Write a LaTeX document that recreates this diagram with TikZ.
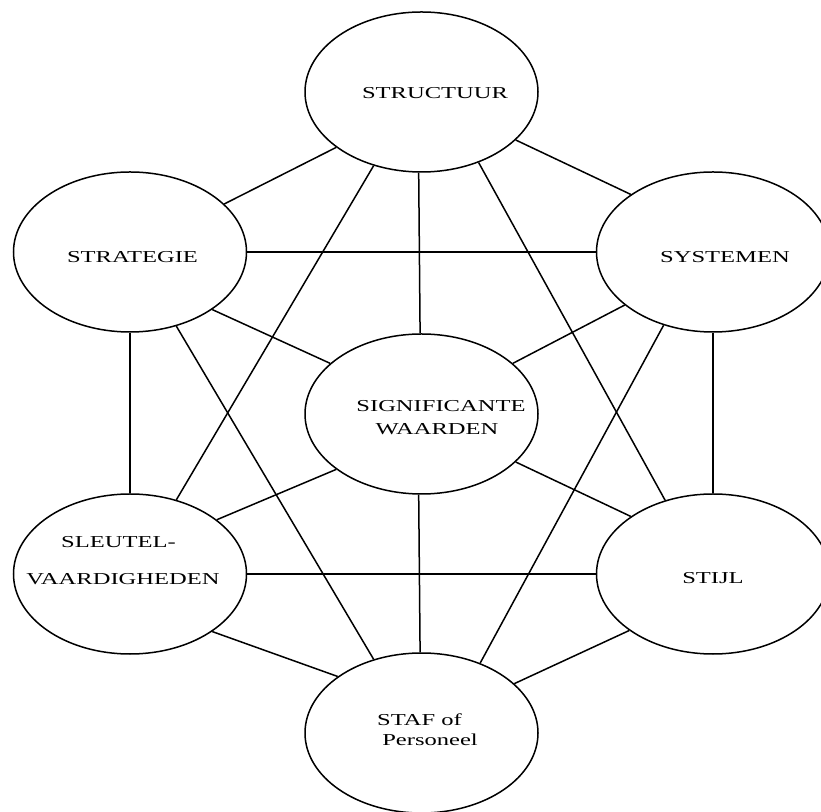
\documentclass[tikz,border=0pt]{standalone}
\usepackage{fontspec}
\setmainfont{Liberation Serif}
\usepackage{graphicx}
\usetikzlibrary{shapes.geometric}
\newcommand\stretchtxt[1]{\scalebox{1.47}[1]{\fontsize{16.7}{20}\selectfont #1}}
\tikzset{
  oval/.style={ellipse, draw, line width=1.5pt, minimum width=233pt, minimum height=160pt, inner sep=0pt},
  lbl/.style={anchor=base, inner sep=0pt},
  link/.style={line width=1.5pt}
}
\begin{document}
\begin{tikzpicture}[x=1pt,y=1pt]
\useasboundingbox (0,0) rectangle (821,811);
% ellipses
\node[oval] (A) at (421.5,719) {};
\node[oval] (B) at (130,559) {};
\node[oval] (C) at (713,559) {};
\node[oval] (D) at (421.5,397) {};
\node[oval] (E) at (130,237) {};
\node[oval] (F) at (713,237) {};
\node[oval] (G) at (421.5,78) {};
% labels
\node[lbl] (tA) at (435,712.3) {\stretchtxt{STRUCTUUR}};
\node[lbl] (tB) at (132.5,548.7) {\stretchtxt{STRATEGIE}};
\node[lbl] (tC) at (725,548.7) {\stretchtxt{SYSTEMEN}};
\node[lbl] (tD1) at (441,399.3) {\stretchtxt{SIGNIFICANTE}};
\node[lbl] (tD2) at (437,376) {\stretchtxt{WAARDEN}};
\node[lbl] (tE1) at (118.5,263.7) {\stretchtxt{SLEUTEL-}};
\node[lbl] (tE2) at (123,226) {\stretchtxt{VAARDIGHEDEN}};
\node[lbl] (tF) at (713,227.7) {\stretchtxt{STIJL}};
\node[lbl] (tG1) at (419.5,86) {\stretchtxt{STAF of}};
\node[lbl] (tG2) at (430,66) {\stretchtxt{Personeel}};
% connectors
\draw[link] (A.213.5) -- (B.27.5);
\draw[link] (A.333) -- (C.145);
\draw[link] (A.268.5) -- (D.91.5);
\draw[link] (A.237) -- (E.58.5);
\draw[link] (A.309.3) -- (F.123.9);
\draw[link] (B.0) -- (C.180);
\draw[link] (B.325) -- (D.151.7);
\draw[link] (B.270) -- (E.90);
\draw[link] (B.302.3) -- (G.123.2);
\draw[link] (C.211) -- (D.29);
\draw[link] (C.270) -- (F.90);
\draw[link] (C.236) -- (G.50.8);
\draw[link] (D.213.1) -- (E.32);
\draw[link] (D.333.8) -- (F.145.3);
\draw[link] (D.268.5) -- (G.91.5);
\draw[link] (E.0) -- (F.180);
\draw[link] (E.325) -- (G.146);
\draw[link] (F.214.6) -- (G.28);
\end{tikzpicture}
\end{document}
